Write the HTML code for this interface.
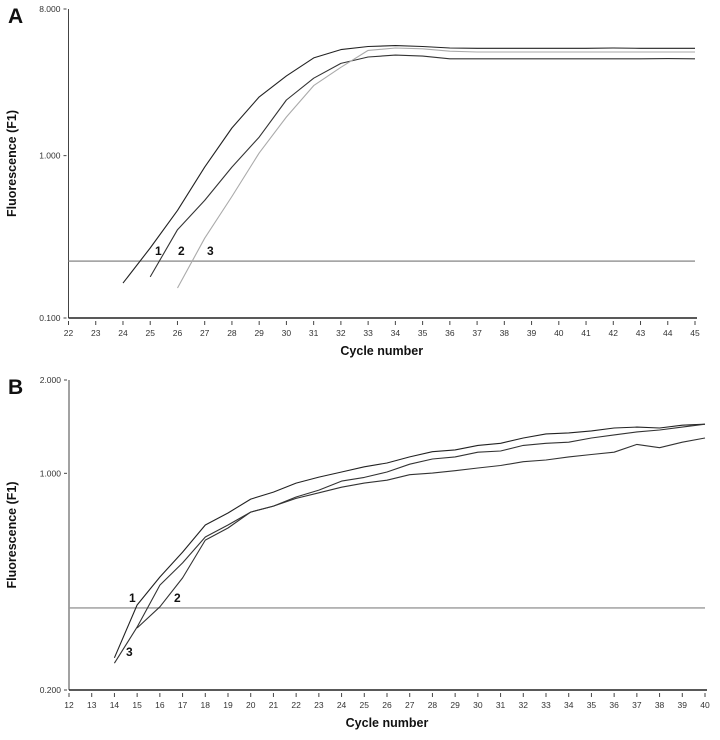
<!DOCTYPE html>
<html><head><meta charset="utf-8"><style>
body{margin:0;background:#fff}
svg{display:block;font-family:"Liberation Sans",Arial,sans-serif}
</style></head><body>
<svg id="c" width="720" height="740"></svg>
<script>
const cyclesA1=[24,25,26,27,28,29,30,31,32,33,34,35,36,37,38,39,40,41,42,43,44,45];
const seriesA1=[0.164,0.27,0.46,0.85,1.48,2.3,3.1,4.0,4.5,4.7,4.76,4.7,4.6,4.58,4.58,4.58,4.58,4.58,4.6,4.58,4.58,4.58];
const cyclesA2=[25,26,27,28,29,30,31,32,33,34,35,36,37,38,39,40,41,42,43,44,45];
const seriesA2=[0.179,0.35,0.53,0.85,1.3,2.2,3.0,3.7,4.05,4.16,4.1,3.95,3.95,3.95,3.95,3.95,3.95,3.95,3.95,3.96,3.95];
const cyclesA3=[26,27,28,29,30,31,32,33,34,35,36,37,38,39,40,41,42,43,44,45];
const seriesA3=[0.153,0.31,0.56,1.04,1.73,2.7,3.5,4.45,4.6,4.55,4.4,4.35,4.35,4.35,4.35,4.35,4.35,4.35,4.35,4.35];
const thresholdA=0.224;
const xTicksA=[22,23,24,25,26,27,28,29,30,31,32,33,34,35,36,37,38,39,40,41,42,43,44,45];
const yTicksA=[0.1,1,8];
const yTickLabelsA=["0.100","1.000","8.000"];

const cyclesB1=[14,15,16,17,18,19,20,21,22,23,24,25,26,27,28,29,30,31,32,33,34,35,36,37,38,39,40];
const seriesB1=[0.254,0.376,0.463,0.557,0.681,0.745,0.826,0.87,0.93,0.972,1.01,1.05,1.08,1.13,1.174,1.19,1.23,1.25,1.30,1.34,1.35,1.37,1.40,1.41,1.40,1.43,1.44];
const cyclesB3=[14,15,16,17,18,19,20,21,22,23,24,25,26,27,28,29,30,31,32,33,34,35,36,37,38,39,40];
const seriesB3=[0.244,0.319,0.436,0.514,0.623,0.681,0.75,0.784,0.839,0.883,0.944,0.97,1.01,1.07,1.112,1.13,1.17,1.18,1.23,1.25,1.26,1.30,1.33,1.36,1.38,1.41,1.44];
const cyclesB2=[15,16,17,18,19,20,21,22,23,24,25,26,27,28,29,30,31,32,33,34,35,36,37,38,39,40];
const seriesB2=[0.317,0.371,0.46,0.609,0.666,0.75,0.784,0.83,0.865,0.902,0.93,0.95,0.99,1.002,1.02,1.04,1.06,1.09,1.104,1.13,1.15,1.17,1.24,1.21,1.26,1.30];
const thresholdB=0.368;
const xTicksB=[12,13,14,15,16,17,18,19,20,21,22,23,24,25,26,27,28,29,30,31,32,33,34,35,36,37,38,39,40];
const yTicksB=[0.2,1,2];
const yTickLabelsB=["0.200","1.000","2.000"];

const NS="http://www.w3.org/2000/svg";
const svg=document.getElementById('c');
function mk(tag,attrs,parent,text){const e=document.createElementNS(NS,tag);for(const k in attrs)e.setAttribute(k,attrs[k]);if(text!==undefined)e.textContent=text;(parent||svg).appendChild(e);return e;}

function panel(p){
  const g=mk('g',{});
  
  
  const xs=c=>p.x0+(c-p.xmin)*(p.x1-p.x0)/(p.xmax-p.xmin);
  const ys=v=>p.y1-(Math.log10(v)-Math.log10(p.ymin))*(p.y1-p.y0)/(Math.log10(p.ymax)-Math.log10(p.ymin));
  const L=mk('text',{x:8,y:p.y0+14,'font-size':21,'font-weight':'bold',fill:'#111'},g,p.letter);
  
  
  const ya=mk('line',{x1:p.x0,y1:p.y0,x2:p.x0,y2:p.y1,stroke:'#444','stroke-width':1},g);
  
  
  const xa=mk('line',{x1:p.x0,y1:p.y1,x2:p.x1+2,y2:p.y1,stroke:'#222','stroke-width':1.6},g);
  
  
  p.yT.forEach((v,i)=>{
    const y=ys(v);
    mk('line',{x1:p.x0-5,y1:y,x2:p.x0-2,y2:y,stroke:'#444'},g);
    const t=mk('text',{x:p.x0-8,y:y+3,'font-size':8.5,'text-anchor':'end',fill:'#333'},g,p.yL[i]);
    
    
  });
  p.xT.forEach(c=>{
    const x=xs(c);
    mk('line',{x1:x,y1:p.y1+3,x2:x,y2:p.y1+7,stroke:'#444'},g);
    const t=mk('text',{x:x,y:p.y1+18,'font-size':8.5,'text-anchor':'middle',fill:'#333'},g,String(c));
    
    
  });
  const yt=mk('text',{x:0,y:0,'font-size':12.5,'font-weight':'bold','text-anchor':'middle',fill:'#111',transform:`translate(16,${(p.y0+p.y1)/2}) rotate(-90)`},g,'Fluorescence (F1)');
  
  
  const xt=mk('text',{x:(p.x0+p.x1)/2,y:p.y1+37,'font-size':12.5,'font-weight':'bold','text-anchor':'middle',fill:'#111'},g,'Cycle number');
  
  
  const th=mk('line',{x1:p.x0,y1:ys(p.th),x2:p.x1,y2:ys(p.th),stroke:'#999','stroke-width':1.4},g);
  
  
  p.series.forEach(s=>{
    const d=s.c.map((c,i)=>(i?'L':'M')+xs(c).toFixed(1)+' '+ys(s.v[i]).toFixed(1)).join(' ');
    const pa=mk('path',{d:d,fill:'none',stroke:s.col,'stroke-width':1.1,'stroke-linejoin':'round'},g);
    
    
  });
  p.labels.forEach(l=>{
    const t=mk('text',{x:l[1],y:l[2],'font-size':12,'font-weight':'bold',fill:'#111'},g,l[0]);
    
    
  });
}
panel({name:'panel-a',letter:'A',x0:68.5,x1:695,xmin:22,xmax:45,y0:9,y1:318,ymin:0.1,ymax:8,
  xT:xTicksA,yT:yTicksA,yL:yTickLabelsA,th:thresholdA,
  series:[{name:'curve-a1',c:cyclesA1,v:seriesA1,col:'#222'},{name:'curve-a2',c:cyclesA2,v:seriesA2,col:'#333'},{name:'curve-a3',c:cyclesA3,v:seriesA3,col:'#aaa'}],
  labels:[['1',155,255],['2',178,255],['3',207,255]]});
panel({name:'panel-b',letter:'B',x0:69,x1:705,xmin:12,xmax:40,y0:380,y1:690,ymin:0.2,ymax:2,
  xT:xTicksB,yT:yTicksB,yL:yTickLabelsB,th:thresholdB,
  series:[{name:'curve-b1',c:cyclesB1,v:seriesB1,col:'#222'},{name:'curve-b2',c:cyclesB2,v:seriesB2,col:'#333'},{name:'curve-b3',c:cyclesB3,v:seriesB3,col:'#333'}],
  labels:[['1',129,602],['2',174,602],['3',126,656]]});
</script>
</body></html>
